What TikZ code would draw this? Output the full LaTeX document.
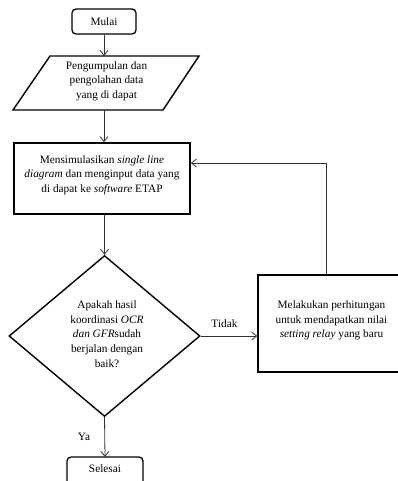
\documentclass[tikz,border=0pt]{standalone}
\usepackage{fontspec}
\setmainfont{Liberation Serif}
\usetikzlibrary{shapes.geometric,arrows.meta,calc}
\begin{document}
\begin{tikzpicture}[x=1pt,y=1pt,
  txt/.style={align=center,font=\fontsize{11.3}{14.6}\selectfont,inner sep=0},
  lbl/.style={font=\fontsize{11.3}{14.6}\selectfont,inner sep=0},
  arr/.style={draw=black!80,line width=0.8pt,-{Straight Barb[length=5pt,width=8pt]}},
  term/.style={draw,line width=1.3pt,rounded corners=4pt},
  boxthick/.style={draw,line width=1.7pt},
  boxnorm/.style={draw,line width=1.4pt}]
\path[use as bounding box] (0,0) rectangle (398,-481);
\clip (0,0) rectangle (398,-481);
% start
\node[term,minimum width=64pt,minimum height=25pt,txt] (mulai) at (104,-21.5) {Mulai};
% parallelogram
\draw[line width=1.4pt] (50,-56) -- (199,-56) -- (163,-110) -- (13,-110) -- cycle;
\coordinate (paratop) at (104,-56);
\coordinate (parabot) at (104,-110);
\node[txt] (para) at (106.5,-81) {Pengumpulan dan\\pengolahan data\\yang di dapat};
% simulate box
\node[boxthick,minimum width=176pt,minimum height=71pt] (box2) at (102,-178.5) {};
\node[txt] (box2t) at (102,-175) {Mensimulasikan \textit{single line}\\\textit{diagram} dan menginput data yang\\di dapat ke \textit{software} ETAP};
% decision
\node[diamond,draw,line width=1.4pt,minimum width=191pt,minimum height=161pt,inner sep=0] (dia) at (104.5,-336) {};
\node[txt] (diat) at (107,-334) {Apakah hasil\\koordinasi \textit{OCR}\\\textit{dan GFR}sudah\\berjalan dengan\\baik?};
% right box
\node[boxnorm,minimum width=147pt,minimum height=97pt] (rbox) at (331.5,-323.5) {};
\node[txt] (rboxt) at (331.5,-320.5) {Melakukan perhitungan\\untuk mendapatkan nilai\\\textit{setting relay} yang baru};
% end
\draw[term] (67,-500) -- (67,-457) -- (143,-457) -- (143,-500);
\coordinate (seltop) at (105,-457);
\node[txt] (selesai) at (105,-469) {Selesai};
% connectors
\draw[arr] (mulai.south) -- (paratop);
\draw[arr] (parabot) -- (parabot |- box2.north);
\draw[arr] (dia.north |- box2.south) -- (dia.north);
\draw[arr] (dia.east) -- (rbox.west |- dia.east) node[lbl,pos=0.42,above=8pt] (tidak) {Tidak};
\coordinate (fb) at (326,-163);
\draw[arr] (rbox.north -| fb) -- (fb) -- (fb -| box2.east);
\draw[arr] (dia.south) -- (seltop);
\node[lbl] (ya) at (84,-437) {Ya};
\end{tikzpicture}
\end{document}
